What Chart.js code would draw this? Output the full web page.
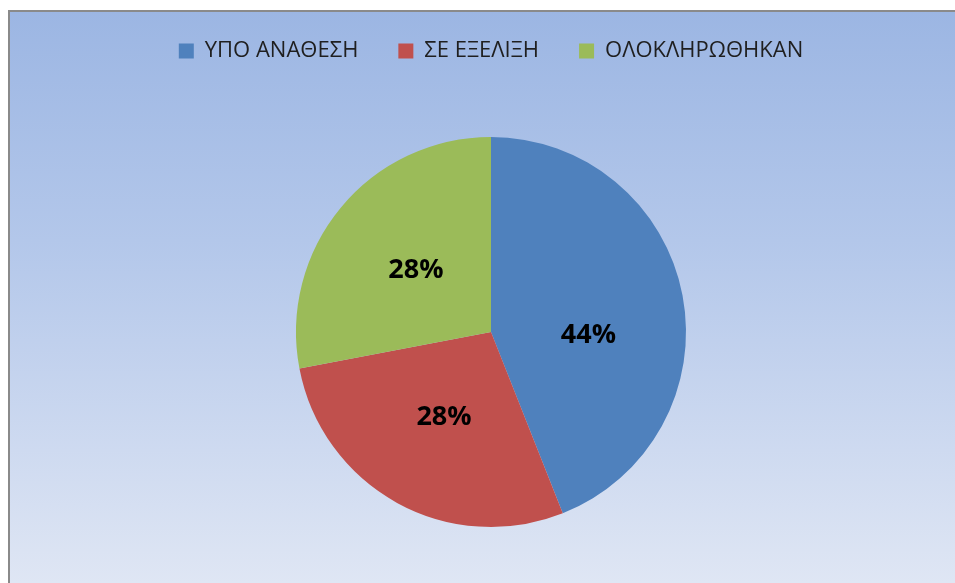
<!DOCTYPE html>
<html>
<head>
<meta charset="utf-8">
<script src="https://cdn.jsdelivr.net/npm/chart.js@4/dist/chart.umd.min.js"></script>
<style>
  html, body { margin: 0; padding: 0; background: #ffffff; overflow: hidden; width: 955px; height: 583px; }
  #frame {
    position: absolute; left: 8px; top: 10px; width: 947px; height: 573px;
    box-sizing: border-box;
    border-top: 2px solid #8a8a8a; border-left: 2px solid #8a8a8a;
    background: linear-gradient(to bottom, #9cb6e3 0%, #b3c7ea 40%, #dfe6f4 100%);
    overflow: hidden;
  }
  #c { position: absolute; left: 0; top: 0; }
</style>
</head>
<body>
<div id="frame"><canvas id="c" width="945" height="580" style="width:945px;height:580px"></canvas></div>
<script>
const categories = ['ΥΠΟ ΑΝΑΘΕΣΗ', 'ΣΕ ΕΞΕΛΙΞΗ', 'ΟΛΟΚΛΗΡΩΘΗΚΑΝ'];
const shares = [44, 28, 28];
const sliceColors = ['#4f81bd', '#c0504d', '#9bbb59'];

const pieLabels = {
  id: 'pieLabels',
  afterDatasetsDraw(chart, args, opts) {
    const ctx = chart.ctx;
    const meta = chart.getDatasetMeta(0);
    const shifts = opts.angleShiftDeg || [];
    ctx.save();
    ctx.font = 'bold 27px "Open Sans", "DejaVu Sans", sans-serif';
    ctx.fillStyle = '#000000';
    ctx.textAlign = 'center';
    ctx.textBaseline = 'middle';
    meta.data.forEach((arc, i) => {
      const p = arc.getProps(['x', 'y', 'startAngle', 'endAngle', 'outerRadius'], true);
      const mid = (p.startAngle + p.endAngle) / 2 + (shifts[i] || 0) * Math.PI / 180;
      const r = p.outerRadius * 0.5;
      ctx.fillText(shares[i] + '%', p.x + Math.cos(mid) * r, p.y + Math.sin(mid) * r);
    });
    ctx.restore();
  }
};

new Chart(document.getElementById('c'), {
  type: 'pie',
  data: {
    labels: categories,
    datasets: [{
      data: shares,
      backgroundColor: sliceColors,
      borderWidth: 0,
      radius: 195
    }]
  },
  options: {
    responsive: false,
    devicePixelRatio: 1,
    animation: false,
    layout: { padding: { top: -12, left: 17, right: 0, bottom: 0 } },
    plugins: {
      tooltip: { enabled: false },
      pieLabels: { angleShiftDeg: [13, 0, 0] },
      legend: {
        position: 'top',
        labels: {
          boxWidth: 15,
          boxHeight: 15,
          padding: 40,
          color: '#1f1f1f',
          font: { family: '"Open Sans", "DejaVu Sans", sans-serif', size: 22 }
        }
      }
    }
  },
  plugins: [pieLabels]
});
</script>
</body>
</html>
